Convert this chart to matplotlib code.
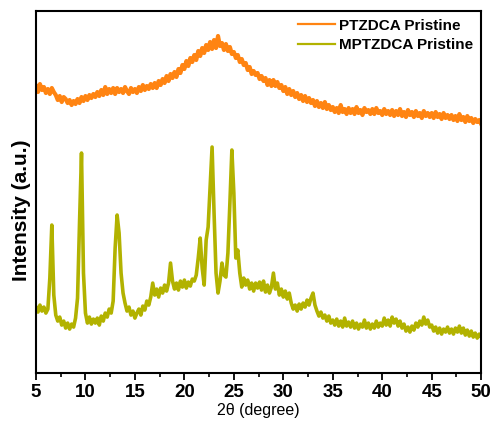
#!/usr/bin/env python3
import numpy as np
import matplotlib.pyplot as plt
from matplotlib.ticker import MultipleLocator

plt.rcParams['font.family'] = ['Liberation Sans', 'DejaVu Sans']

# 2-theta grid of the scans (degrees)
two_theta = np.arange(5.0, 50.001, 0.2)

# PTZDCA Pristine (arbitrary units)
ptzdca = [
    287, 281, 289, 283, 286, 280, 284, 279, 285, 281,
    278, 273, 277, 271, 276, 274, 270, 273, 268, 272,
    269, 274, 270, 276, 272, 277, 273, 278, 275, 279,
    276, 281, 277, 283, 278, 286, 279, 284, 280, 285,
    279, 285, 281, 284, 280, 286, 282, 279, 285, 281,
    284, 280, 286, 282, 288, 283, 287, 284, 289, 285,
    290, 285, 292, 288, 294, 290, 297, 292, 299, 295,
    301, 296, 304, 300, 308, 304, 312, 307, 315, 311,
    318, 313, 322, 317, 325, 320, 328, 323, 331, 324,
    333, 325, 337, 327, 330, 323, 329, 322, 326, 319,
    321, 315, 318, 311, 314, 308, 310, 303, 306, 299,
    302, 298, 300, 294, 297, 292, 295, 288, 293, 287,
    293, 287, 291, 285, 288, 282, 286, 279, 284, 278,
    282, 276, 280, 274, 278, 272, 277, 271, 275, 270,
    273, 267, 272, 266, 270, 265, 271, 264, 268, 263,
    266, 261, 265, 260, 268, 261, 264, 259, 265, 260,
    264, 259, 266, 260, 263, 258, 265, 261, 263, 259,
    264, 259, 265, 260, 262, 258, 264, 259, 262, 258,
    263, 257, 262, 258, 264, 257, 261, 256, 263, 258,
    261, 256, 262, 257, 260, 255, 262, 257, 260, 256,
    260, 255, 261, 256, 259, 254, 260, 255, 258, 254,
    258, 253, 257, 252, 259, 253, 256, 251, 257, 252,
    255, 250, 254, 251, 253, 249,
]

# MPTZDCA Pristine (arbitrary units)
mptzdca = [
    66, 61, 68, 62, 66, 60, 64, 95, 148, 78,
    58, 52, 56, 48, 52, 45, 50, 44, 49, 46,
    55, 75, 150, 220, 100, 60, 50, 56, 49, 54,
    50, 55, 48, 57, 52, 60, 56, 64, 60, 72,
    125, 158, 140, 100, 80, 70, 62, 66, 58, 62,
    55, 60, 64, 58, 67, 63, 72, 68, 76, 90,
    78, 84, 76, 85, 80, 88, 82, 90, 110, 92,
    84, 90, 83, 92, 86, 93, 85, 91, 87, 94,
    92, 98, 115, 135, 105, 88, 133, 146, 185, 226,
    160, 100, 80, 92, 110, 98, 96, 120, 170, 223,
    180, 115, 123, 100, 86, 95, 88, 93, 84, 90,
    82, 90, 85, 91, 83, 92, 81, 88, 80, 86,
    100, 84, 90, 78, 84, 76, 82, 74, 80, 70,
    64, 68, 62, 69, 64, 70, 66, 73, 68, 75,
    80, 68, 62, 57, 61, 55, 58, 52, 57, 50,
    53, 48, 54, 47, 52, 46, 55, 47, 51, 46,
    52, 45, 50, 44, 49, 46, 53, 45, 50, 44,
    49, 45, 52, 46, 50, 47, 55, 48, 53, 47,
    56, 50, 54, 47, 52, 45, 49, 42, 46, 41,
    47, 43, 50, 46, 52, 48, 56, 49, 53, 46,
    48, 42, 46, 40, 45, 39, 44, 41, 46, 40,
    44, 39, 45, 41, 47, 40, 45, 38, 43, 37,
    42, 36, 40, 35, 39, 36,
]

labels = ['PTZDCA Pristine', 'MPTZDCA Pristine']
colors = ['#ff8412', '#b2b200']

fig = plt.figure(figsize=(4.93, 4.23), dpi=100)
ax = fig.add_axes([0.073, 0.118, 0.903, 0.856])

ax.plot(two_theta, ptzdca, color=colors[0], lw=3.0, label=labels[0])
ax.plot(two_theta, mptzdca, color=colors[1], lw=2.6, label=labels[1])

ax.set_xlim(5, 50)
ax.set_ylim(0, 362)
ax.xaxis.set_major_locator(MultipleLocator(5))
ax.xaxis.set_minor_locator(MultipleLocator(2.5))
ax.set_yticks([])

ax.tick_params(axis='x', which='major', direction='out', length=5, width=1.3,
               labelsize=13.5, pad=3)
ax.tick_params(axis='x', which='minor', direction='out', length=3, width=1.2)
for lbl in ax.get_xticklabels():
    lbl.set_fontweight('bold')
for sp in ax.spines.values():
    sp.set_linewidth(1.5)

ax.set_xlabel('2θ (degree)', fontsize=11.5, labelpad=1)
ax.set_ylabel('Intensity (a.u.)', fontsize=15, fontweight='bold')
ax.yaxis.set_label_coords(-0.012, 0.45)

leg = ax.legend(loc='upper right', frameon=False, handlelength=2.4,
                handletextpad=0.3, labelspacing=0.35, borderaxespad=0.1,
                prop={'weight': 'bold', 'size': 11})
for h in leg.get_lines():
    h.set_linewidth(1.6)

fig.savefig('out.png', dpi=100)
